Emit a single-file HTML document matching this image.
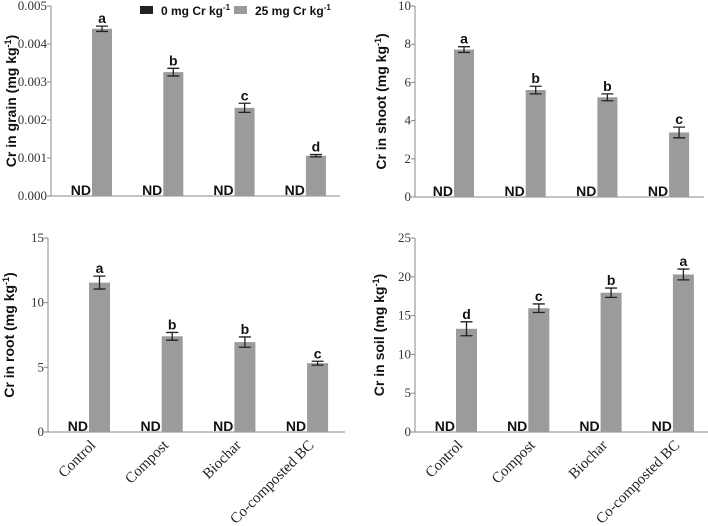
<!DOCTYPE html>
<html><head><meta charset="utf-8"><style>
body{margin:0;background:#fff}
svg{display:block}
.tk{font-family:"Liberation Serif",serif;font-size:13px;fill:#333}
.yt{font-family:"Liberation Sans",sans-serif;font-size:14px;font-weight:bold;fill:#111}
.nd{font-family:"Liberation Sans",sans-serif;font-size:14px;font-weight:bold;fill:#111}
.lt{font-family:"Liberation Sans",sans-serif;font-size:14px;font-weight:bold;fill:#111}
.cat{font-family:"Liberation Serif",serif;font-size:15px;fill:#222}
.lg{font-family:"Liberation Sans",sans-serif;font-size:12px;font-weight:bold;fill:#111}
</style></head><body>
<svg id="c" width="708" height="526" xmlns="http://www.w3.org/2000/svg"></svg>
<script>
const categories=["Control","Compost","Biochar","Co-composted BC"];
const grainVals=[0.0044,0.00326,0.00232,0.00106];
const grainErr=[0.00007,0.0001,0.00012,0.00003];
const grainLetters=["a","b","c","d"];
const grainTicks=["0.000","0.001","0.002","0.003","0.004","0.005"];
const shootVals=[7.72,5.6,5.22,3.38];
const shootErr=[0.15,0.2,0.18,0.28];
const shootLetters=["a","b","b","c"];
const shootTicks=["0","2","4","6","8","10"];
const rootVals=[11.55,7.4,6.95,5.32];
const rootErr=[0.5,0.3,0.4,0.15];
const rootLetters=["a","b","b","c"];
const rootTicks=["0","5","10","15"];
const soilVals=[13.3,15.95,17.95,20.3];
const soilErr=[0.9,0.55,0.6,0.7];
const soilLetters=["d","c","b","a"];
const soilTicks=["0","5","10","15","20","25"];

const NS="http://www.w3.org/2000/svg";
const svg=document.getElementById('c');
function mk(t,a,p){const e=document.createElementNS(NS,t);for(const k in a)e.setAttribute(k,a[k]);(p||svg).appendChild(e);return e;}

function panel(o){
  const g=mk('g',{});
  
  
  const max=parseFloat(o.ticks[o.ticks.length-1]);
  const y=v=>o.y0-(v/max)*(o.y0-o.yTop);
  const ax=mk('line',{x1:o.ax,y1:o.yTop,x2:o.ax,y2:o.y0,stroke:'#888','stroke-width':1},g);
  
  
  const xa=mk('line',{x1:o.ax,y1:o.y0,x2:o.xEnd,y2:o.y0,stroke:'#888','stroke-width':1},g);
  
  
  o.ticks.forEach(t=>{
    const yy=y(parseFloat(t));
    mk('line',{x1:o.ax-4,y1:yy,x2:o.ax,y2:yy,stroke:'#888'},g);
    const tx=mk('text',{x:o.ax-4,y:yy+4,'text-anchor':'end',class:'tk'},g);
    tx.textContent=t;
    
    
  });
  const cy=(o.y0+o.yTop)/2;
  const yt=mk('text',{x:0,y:0,class:'yt','text-anchor':'middle',transform:`translate(${o.titleX},${cy}) rotate(-90)`},g);
  yt.innerHTML=o.title+' (mg kg<tspan dy="-5" font-size="9">-1</tspan><tspan dy="5">)</tspan>';
  
  
  o.vals.forEach((v,i)=>{
    const bx=o.bx0+i*o.step, bw=o.bw;
    const r=mk('rect',{x:bx,y:y(v),width:bw,height:o.y0-y(v),fill:'#9b9b9b'},g);
    
    
    const cx=bx+bw/2, hi=y(v+o.err[i]), lo=y(v-o.err[i]);
    const e=mk('path',{d:`M${cx},${hi}V${lo}M${cx-6},${hi}H${cx+6}M${cx-6},${lo}H${cx+6}`,stroke:'#222','stroke-width':1.3,fill:'none'},g);
    
    
    const l=mk('text',{x:cx,y:hi-3,'text-anchor':'middle',class:'lt'},g);
    l.textContent=o.letters[i];
    
    
    const nd=mk('text',{x:bx-1,y:o.y0-1,'text-anchor':'end',class:'nd'},g);
    nd.textContent='ND';
    
    
    if(o.cats){
      const c=mk('text',{x:0,y:0,'text-anchor':'end',class:'cat',transform:`translate(${cx-3},${o.y0+14}) rotate(-45)`},g);
      c.textContent=categories[i];
      
      
    }
  });
}
panel({name:'grain-panel',ax:51,y0:196,yTop:6,xEnd:340,bx0:92,step:71.3,bw:20,vals:grainVals,err:grainErr,letters:grainLetters,ticks:grainTicks,title:'Cr in grain',titleX:16});
panel({name:'shoot-panel',ax:415,y0:197,yTop:6,xEnd:704,bx0:454,step:71.7,bw:20,vals:shootVals,err:shootErr,letters:shootLetters,ticks:shootTicks,title:'Cr in shoot',titleX:386});
panel({name:'root-panel',ax:48,y0:432,yTop:238,xEnd:345,bx0:89,step:72.7,bw:21,vals:rootVals,err:rootErr,letters:rootLetters,ticks:rootTicks,title:'Cr in root',titleX:14,cats:true});
panel({name:'soil-panel',ax:415,y0:432,yTop:238,xEnd:708,bx0:456,step:72.3,bw:21,vals:soilVals,err:soilErr,letters:soilLetters,ticks:soilTicks,title:'Cr in soil',titleX:384,cats:true});

const lg=mk('g',{});


const b1=mk('rect',{x:140,y:6,width:13,height:8,fill:'#222'},lg);


const t1=mk('text',{x:161,y:15,class:'lg'},lg);
t1.innerHTML='0 mg Cr kg<tspan dy="-5" font-size="8">-1</tspan>';


const b2=mk('rect',{x:234,y:6,width:13,height:8,fill:'#9b9b9b'},lg);


const t2=mk('text',{x:255,y:15,class:'lg'},lg);
t2.innerHTML='25 mg Cr kg<tspan dy="-5" font-size="8">-1</tspan>';


</script>
</body></html>
